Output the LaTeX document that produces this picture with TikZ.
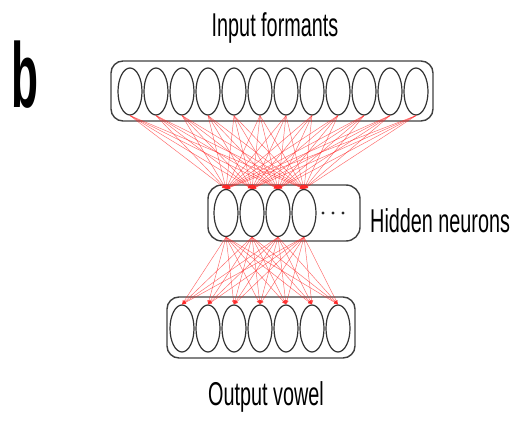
\documentclass[tikz,border=0pt]{standalone}
\usepackage{fontspec}
\setmainfont{Liberation Sans}[FakeStretch=0.6]
\usetikzlibrary{shapes.geometric,arrows.meta}
\tikzset{
  unit/.style={draw=black!80, line width=1.2pt, ellipse, minimum width=24pt, minimum height=47pt, inner sep=0pt},
  layer/.style={draw=black!75, line width=1.4pt, rounded corners=12pt},
  synapse/.style={red!85, line width=0.45pt, opacity=0.7, -{Latex[length=4pt,width=3.5pt]}},
  layername/.style={font=\fontsize{33}{36}\selectfont, inner sep=0pt}
}
\begin{document}
\begin{tikzpicture}[x=1pt,y=-1pt]
	\useasboundingbox (0,0) rectangle (516,420);
	% layer outlines
	\draw[layer] (111,61) rectangle (433,121);
	\draw[layer, rounded corners=14pt] (208,185) rectangle (360,241);
	\draw[layer] (167,297) rectangle (355,358);
	% units of each layer
	\foreach \i in {1,...,12}{
		\node[unit] (in\i) at (104+26*\i, 91.5) {};
	}
	\foreach \i in {1,...,4}{
		\node[unit] (hid\i) at (200+26*\i, 213) {};
	}
	\foreach \i in {1,...,7}{
		\node[unit] (out\i) at (156+26*\i, 328.5) {};
	}
	% more hidden units
	\foreach \x in {323,333,343}{
		\fill[black!85] (\x,213) circle (1.7pt);
	}
	% full connections
	\foreach \i in {1,...,12}{
		\foreach \j in {1,...,4}{
			\draw[synapse] (in\i.south) -- (hid\j.north);
		}
	}
	\foreach \i in {1,...,4}{
		\foreach \j in {1,...,7}{
			\draw[synapse] (hid\i.south) -- (out\j.north);
		}
	}
	% names
	\node[layername, anchor=base] (intitle) at (275,37) {Input formants};
	\node[layername, anchor=base west] (hidtitle) at (370,232) {Hidden neurons};
	\node[layername, anchor=base] (outtitle) at (266,405) {Output vowel};
	\node[anchor=base west, inner sep=0pt, font=\bfseries\fontsize{92}{92}\selectfont] (panel) at (11,107) {\scalebox{0.8}[1]{b}};
\end{tikzpicture}
\end{document}
